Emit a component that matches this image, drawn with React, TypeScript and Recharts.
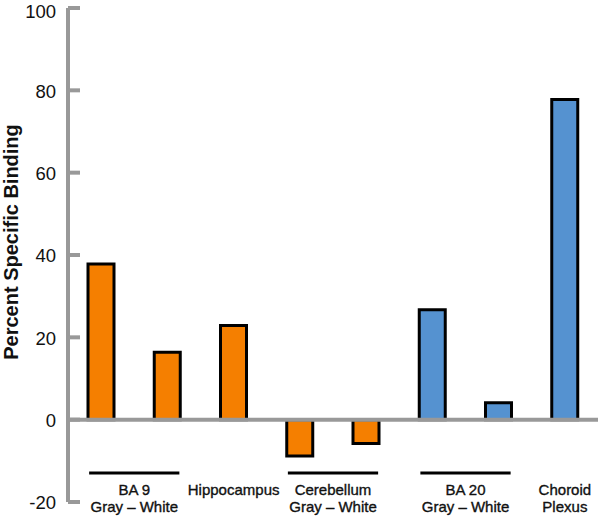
import React from 'react';
import { BarChart, Bar, XAxis, YAxis, Cell, ReferenceLine } from 'recharts';

const categories = [
  'BA 9 Gray', 'BA 9 White', 'Hippocampus', 'Cerebellum Gray',
  'Cerebellum White', 'BA 20 Gray', 'BA 20 White', 'Choroid Plexus',
];
const values = [37.8, 16.4, 22.9, -8.8, -5.8, 26.7, 4.1, 77.8];
const seriesColor = ['orange', 'orange', 'orange', 'orange', 'orange', 'blue', 'blue', 'blue'];
const yTicks = [-20, 0, 20, 40, 60, 80, 100];

type Group = { start: number; span: number; lines: string[]; underline: boolean };
const groups: Group[] = [
  { start: 0, span: 2, lines: ['BA 9', 'Gray \u2013 White'], underline: true },
  { start: 2, span: 1, lines: ['Hippocampus'], underline: false },
  { start: 3, span: 2, lines: ['Cerebellum', 'Gray \u2013 White'], underline: true },
  { start: 5, span: 2, lines: ['BA 20', 'Gray \u2013 White'], underline: true },
  { start: 7, span: 1, lines: ['Choroid', 'Plexus'], underline: false },
];

const COLORS: Record<string, string> = { orange: '#F57F00', blue: '#5592D0' };
const FONT = '"Liberation Sans", Arial, Helvetica, sans-serif';

const data = categories.map((c, i) => ({ cat: c, value: values[i], color: seriesColor[i] }));

const XTick = (props: any) => {
  const { x, y, index, width } = props;
  const g = groups.find((gr) => gr.start === index);
  if (!g) return null;
  const step = (width || 530) / categories.length;
  const cx = x + (step * (g.span - 1)) / 2;
  return (
    <g>
      {g.underline && (
        <line x1={x - 12} x2={x + step * (g.span - 1) + 12} y1={y - 29} y2={y - 29} stroke="#000" strokeWidth={3} />
      )}
      {g.lines.map((l, i) => (
        <text
          key={i}
          x={cx}
          y={y - 7 + i * 17}
          textAnchor="middle"
          fontSize={15}
          fill="#111"
          stroke="#111"
          strokeWidth={0.35}
          fontFamily={FONT}
        >
          {l}
        </text>
      ))}
    </g>
  );
};

const YTick = (props: any) => {
  const { x, y, payload } = props;
  const top = payload.value === yTicks[yTicks.length - 1];
  return (
    <g>
      <text x={x} y={y + 7.2 + (top ? 3 : 0)} textAnchor="end" fontSize={18.5} fill="#111" fontFamily={FONT}>
        {payload.value}
      </text>
      <line x1={x + 12} x2={x + 24} y1={y} y2={y} stroke="#999" strokeWidth={4} />
    </g>
  );
};

const YLabel = (props: any) => {
  const vb = props.viewBox || { x: 8, y: 8, width: 60, height: 494 };
  const cx = vb.x + 10;
  const cy = vb.y + vb.height / 2 - 13;
  return (
    <text
      x={cx}
      y={cy}
      transform={`rotate(-90, ${cx}, ${cy})`}
      textAnchor="middle"
      fontSize={20}
      fontWeight="bold"
      fill="#111"
      fontFamily={FONT}
    >
      Percent Specific Binding
    </text>
  );
};

export default function App() {
  return (
    <div style={{ position: 'absolute', left: 0, top: 0, background: '#fff' }}>
      <BarChart width={600} height={518} data={data} margin={{ top: 8, right: 2, bottom: 0, left: 8 }}>
        <XAxis
          dataKey="cat"
          axisLine={false}
          tickLine={false}
          tickSize={0}
          tickMargin={0}
          height={16}
          interval={0}
          tick={<XTick />}
        />
        <YAxis
          width={60}
          domain={[-20, 100]}
          ticks={yTicks}
          interval={0}
          axisLine={{ stroke: '#999', strokeWidth: 4 }}
          tickLine={false}
          tickSize={0}
          tickMargin={12}
          tick={<YTick />}
          label={{ content: <YLabel /> }}
        />
        <Bar dataKey="value" barSize={26} stroke="#000" strokeWidth={3} isAnimationActive={false}>
          {data.map((d, i) => (
            <Cell key={i} fill={COLORS[d.color]} />
          ))}
        </Bar>
        <ReferenceLine y={0} stroke="#999" strokeWidth={4} />
      </BarChart>
    </div>
  );
}
